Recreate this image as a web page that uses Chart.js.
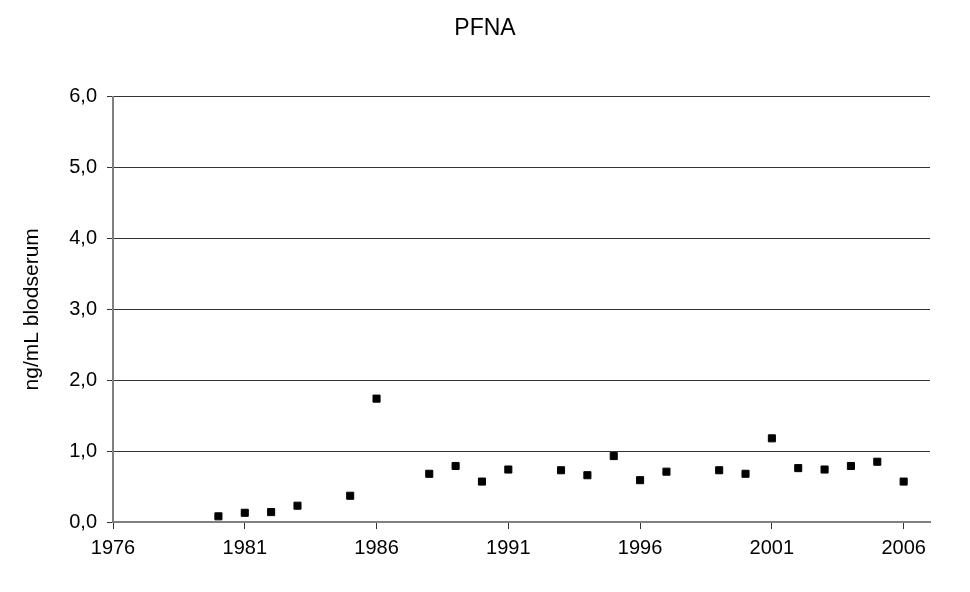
<!DOCTYPE html>
<html>
<head>
<meta charset="utf-8">
<script src="https://cdn.jsdelivr.net/npm/chart.js@4.4.1/dist/chart.umd.min.js"></script>
<style>
html,body{margin:0;padding:0;background:#fff;}
#wrap{width:970px;height:592px;position:relative;}
</style>
</head>
<body>
<div id="wrap"><canvas id="c"></canvas></div>
<script>
const years = [1980,1981,1982,1983,1985,1986,1988,1989,1990,1991,1993,1994,1995,1996,1997,1999,2000,2001,2002,2003,2004,2005,2006];
const pfna  = [0.08,0.13,0.14,0.23,0.37,1.74,0.68,0.79,0.57,0.74,0.73,0.66,0.93,0.59,0.71,0.73,0.68,1.18,0.76,0.74,0.79,0.85,0.57];
const xTicks = [1976,1981,1986,1991,1996,2001,2006];
const yTicks = [0,1,2,3,4,5,6];
const titleText = 'PFNA';
const yTitle = 'ng/mL blodserum';

const font = 'Liberation Sans, Arial, sans-serif';
new Chart(document.getElementById('c'), {
  type: 'scatter',
  data: {
    datasets: [{
      label: titleText,
      data: years.map((y,i)=>({x:y, y:pfna[i]})),
      pointStyle: 'rect',
      pointRadius: 5,
      pointHoverRadius: 5,
      backgroundColor: '#000',
      borderColor: '#000',
      borderWidth: 1
    }]
  },
  options: {
    responsive: true,
    maintainAspectRatio: false,
    animation: false,
    layout: { padding: { left: 0, right: 0, top: 0, bottom: 0 } },
    plugins: {
      legend: { display: false },
      tooltip: { enabled: false },
      title: {
        display: true,
        text: titleText,
        color: '#000',
        font: { family: font, size: 23, weight: 'normal' },
        padding: { top: 15, bottom: 54 }
      }
    },
    scales: {
      x: {
        type: 'linear',
        min: 1976,
        max: 2007,
        afterBuildTicks: s => { s.ticks = xTicks.map(v => ({ value: v })); },
        afterFit: s => { s.height = 70; },
        grid: { drawOnChartArea: false, drawTicks: true, tickLength: 7, color: '#333', lineWidth: 1 },
        border: { display: true, color: '#808080', width: 2 },
        ticks: {
          color: '#000',
          font: { family: font, size: 20 },
          padding: 7,
          maxRotation: 0,
          callback: v => String(v)
        }
      },
      y: {
        min: 0,
        max: 6,
        afterBuildTicks: s => { s.ticks = yTicks.map(v => ({ value: v })); },
        afterFit: s => { s.width = 113; },
        grid: { drawOnChartArea: true, drawTicks: true, tickLength: 6, color: '#333', lineWidth: 1 },
        border: { display: true, color: '#808080', width: 2 },
        ticks: {
          color: '#000',
          font: { family: font, size: 20 },
          padding: 10,
          callback: v => v.toFixed(1).replace('.', ',')
        },
        title: {
          display: true,
          text: yTitle,
          color: '#000',
          font: { family: font, size: 21 },
          padding: { top: 20, bottom: 0 }
        }
      },
      yRight: {
        position: 'right',
        min: 0,
        max: 6,
        afterFit: s => { s.width = 40; },
        grid: { display: false, drawOnChartArea: false, drawTicks: false },
        border: { display: false },
        ticks: { display: false }
      }
    }
  }
});
</script>
</body>
</html>
